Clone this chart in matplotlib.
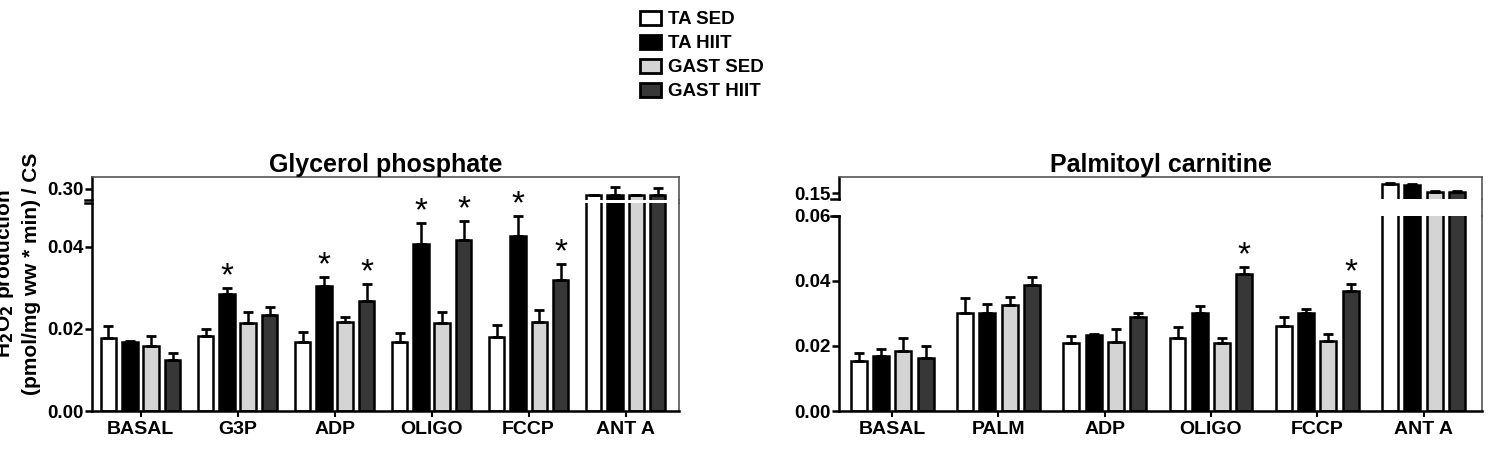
import matplotlib
matplotlib.use('Agg')
import matplotlib.pyplot as plt
import numpy as np
from matplotlib.patches import Patch
from matplotlib.lines import Line2D

plt.rcParams['font.family'] = ['Liberation Sans', 'DejaVu Sans']
plt.rcParams['font.weight'] = 'bold'

series = ['TA SED', 'TA HIIT', 'GAST SED', 'GAST HIIT']
colors = ['#ffffff', '#000000', '#d4d4d4', '#373737']

# glycerol phosphate panel
glyc_groups = ['BASAL', 'G3P', 'ADP', 'OLIGO', 'FCCP', 'ANT A']
glyc_ta_sed = [0.0177, 0.0183, 0.0167, 0.0167, 0.0181, 0.2940]
glyc_ta_sed_err = [0.0029, 0.0016, 0.0026, 0.0023, 0.0029, 0.0005]
glyc_ta_hiit = [0.0167, 0.0285, 0.0305, 0.0407, 0.0427, 0.2945]
glyc_ta_hiit_err = [0.0003, 0.0015, 0.0021, 0.0052, 0.0049, 0.0068]
glyc_gast_sed = [0.0159, 0.0215, 0.0216, 0.0215, 0.0218, 0.2940]
glyc_gast_sed_err = [0.0024, 0.0027, 0.0014, 0.0027, 0.0028, 0.0005]
glyc_gast_hiit = [0.0124, 0.0234, 0.0267, 0.0417, 0.0320, 0.2945]
glyc_gast_hiit_err = [0.0018, 0.0020, 0.0043, 0.0045, 0.0039, 0.0059]
# (series index, group index) with a star
glyc_stars = [(1, 1), (1, 2), (3, 2), (1, 3), (3, 3), (1, 4), (3, 4)]

# palmitoyl carnitine panel
palm_groups = ['BASAL', 'PALM', 'ADP', 'OLIGO', 'FCCP', 'ANT A']
palm_ta_sed = [0.0155, 0.0302, 0.0208, 0.0224, 0.0262, 0.1545]
palm_ta_sed_err = [0.0023, 0.0045, 0.0023, 0.0035, 0.0026, 0.0005]
palm_ta_hiit = [0.0169, 0.0301, 0.0234, 0.0301, 0.0302, 0.1540]
palm_ta_hiit_err = [0.0021, 0.0027, 0.0003, 0.0022, 0.0013, 0.0007]
palm_gast_sed = [0.0186, 0.0326, 0.0213, 0.0210, 0.0216, 0.1505]
palm_gast_sed_err = [0.0038, 0.0024, 0.0038, 0.0014, 0.0020, 0.0005]
palm_gast_hiit = [0.0162, 0.0388, 0.0288, 0.0422, 0.0369, 0.1505]
palm_gast_hiit_err = [0.0038, 0.0025, 0.0013, 0.0020, 0.0022, 0.0005]
palm_stars = [(3, 3), (3, 4)]

W, H = 1510, 449
fig = plt.figure(figsize=(W / 100, H / 100), dpi=100)


def px_axes(x0, x1, ytop, ybot):
    return fig.add_axes([x0 / W, 1 - ybot / H, (x1 - x0) / W, (ybot - ytop) / H])


def draw_bars(ax, vals, errs, pitch, width, stars=None):
    x = np.arange(len(vals[0]))
    for i, (v, e) in enumerate(zip(vals, errs)):
        xs = x + (i - 1.5) * pitch
        ax.bar(xs, v, width=width, color=colors[i], edgecolor='black',
               linewidth=1.8, zorder=2)
        ax.errorbar(xs, v, yerr=[np.zeros(len(e)), e], fmt='none',
                    ecolor='black', elinewidth=1.8, capsize=3.5, capthick=2,
                    zorder=3)
    if stars:
        for si, gi in stars:
            ax.annotate('*', (gi + (si - 1.5) * pitch, vals[si][gi] + errs[si][gi]),
                        xytext=(0, -3), textcoords='offset points',
                        ha='center', va='bottom', fontsize=24,
                        fontweight='normal', zorder=4)


def panel(x0, x1, ytop, ybreak_top, ybreak_bot, ybot, groups, vals, errs,
          lo_lim, lo_ticks, hi_lim, hi_ticks, title, stars, pitch, width):
    hi = px_axes(x0, x1, ytop, ybreak_top)
    lo = px_axes(x0, x1, ybreak_bot, ybot)
    draw_bars(lo, vals, errs, pitch, width, stars)
    draw_bars(hi, vals, errs, pitch, width)
    for ax in (lo, hi):
        ax.set_xlim(-0.5, len(groups) - 0.45)
        for s in ('left', 'bottom'):
            ax.spines[s].set_linewidth(1.8)
        for s in ('top', 'right'):
            ax.spines[s].set_linewidth(1.2)
            ax.spines[s].set_color('#555555')
        ax.tick_params(axis='y', direction='out', length=5, width=1.8,
                       labelsize=13.5, pad=1)
    lo.set_ylim(*lo_lim)
    lo.set_yticks(lo_ticks)
    lo.set_yticklabels([f'{t:.2f}' for t in lo_ticks])
    lo.spines['top'].set_visible(False)
    lo.set_xticks(np.arange(len(groups)))
    lo.set_xticklabels(groups, fontsize=14, fontweight='bold')
    lo.tick_params(axis='x', direction='out', length=4, width=1.5, pad=3)
    hi.set_ylim(*hi_lim)
    hi.set_yticks(hi_ticks)
    hi.set_yticklabels([f'{t:.2f}' for t in hi_ticks])
    hi.spines['bottom'].set_visible(False)
    hi.set_xticks([])
    hi.set_title(title, fontsize=18, fontweight='bold', pad=3)
    # break marks on left spine, and the right spine drawn through the gap
    for ax, yy in ((hi, 0), (lo, 1)):
        ax.plot([-0.012, 0.0], [yy, yy], transform=ax.transAxes, color='black',
                lw=1.8, clip_on=False)
    fig.add_artist(Line2D([x1 / W, x1 / W], [1 - ybreak_bot / H, 1 - ybreak_top / H],
                          color='#555555', lw=1.2))
    return lo, hi


glyc_vals = [glyc_ta_sed, glyc_ta_hiit, glyc_gast_sed, glyc_gast_hiit]
glyc_errs = [glyc_ta_sed_err, glyc_ta_hiit_err, glyc_gast_sed_err, glyc_gast_hiit_err]
panel(92, 679, 177, 200, 203, 411, glyc_groups, glyc_vals, glyc_errs,
      (0, 0.0507), [0, 0.02, 0.04], (0.29, 0.31), [0.30],
      'Glycerol phosphate', glyc_stars, 0.22, 0.16)

palm_vals = [palm_ta_sed, palm_ta_hiit, palm_gast_sed, palm_gast_hiit]
palm_errs = [palm_ta_sed_err, palm_ta_hiit_err, palm_gast_sed_err, palm_gast_hiit_err]
panel(839, 1482, 177, 199, 216, 411, palm_groups, palm_vals, palm_errs,
      (0, 0.06), [0, 0.02, 0.04, 0.06], (0.147, 0.158), [0.15],
      'Palmitoyl carnitine', palm_stars, 0.21, 0.15)

fig.text(17 / W, 1 - 274 / H,
         'H$_\\mathbf{2}$O$_\\mathbf{2}$ production\n(pmol/mg ww * min) / CS',
         rotation=90, ha='center', va='center', fontsize=15, fontweight='bold',
         linespacing=1.35)

handles = [Patch(facecolor=c, edgecolor='black', linewidth=2) for c in colors]
fig.legend(handles, series, loc='upper left', bbox_to_anchor=(640 / W, 1 - 11 / H),
           frameon=False, handlelength=1.1, handleheight=0.75,
           labelspacing=0.35, handletextpad=0.4, borderpad=0, borderaxespad=0,
           prop={'weight': 'bold', 'size': 13.5})

fig.savefig('out.png', dpi=100)
